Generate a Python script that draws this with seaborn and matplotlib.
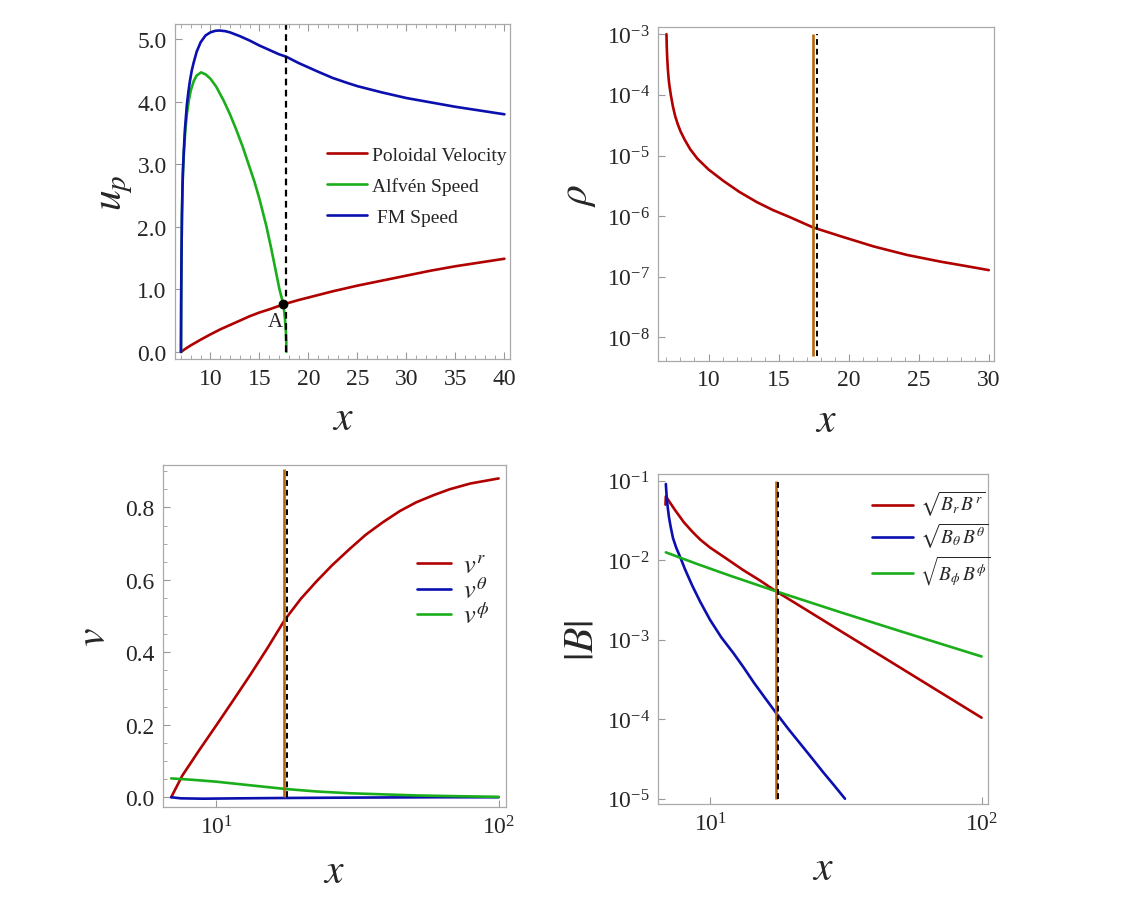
import numpy as np
import pandas as pd
import matplotlib
matplotlib.use('Agg')
import matplotlib.pyplot as plt
import matplotlib.ticker as mticker
import seaborn as sns

# 数据
# 左上：极向速度 / Alfvén 速度 / FM 速度
x_fm = [7.0, 7.02, 7.05, 7.1, 7.15, 7.2, 7.3, 7.4, 7.5, 7.6, 7.75, 7.9, 8.1, 8.3, 8.6, 9.0,
        9.5, 10.0, 10.5, 10.9, 11.5, 12.0, 13.0, 14.0, 15.0, 16.0, 17.0, 17.75, 19.0, 20.0,
        21.0, 22.5, 24.0, 25.0, 27.5, 30.0, 32.5, 35.0, 37.5, 40.0]
u_fm = [0.0, 0.8, 1.5, 2.2, 2.6, 2.9, 3.25, 3.55, 3.75, 3.95, 4.15, 4.32, 4.5, 4.63, 4.8, 4.95,
        5.06, 5.11, 5.135, 5.14, 5.13, 5.11, 5.05, 4.98, 4.9, 4.83, 4.76, 4.72, 4.62, 4.55,
        4.48, 4.38, 4.3, 4.25, 4.15, 4.06, 3.99, 3.92, 3.86, 3.80]
x_alf = [7.0, 7.02, 7.05, 7.1, 7.15, 7.2, 7.3, 7.45, 7.6, 7.8, 8.0, 8.3, 8.6, 9.05, 9.5,
         10.0, 10.6, 11.35, 12.0, 12.6, 13.3, 13.9, 14.5, 15.0, 15.7, 16.2, 16.6, 17.05,
         17.45, 17.6, 17.7, 17.74, 17.76]
u_alf = [0.0, 0.8, 1.5, 2.2, 2.6, 2.85, 3.2, 3.55, 3.8, 4.02, 4.18, 4.33, 4.42, 4.47, 4.44,
         4.37, 4.24, 4.02, 3.8, 3.57, 3.28, 3.0, 2.72, 2.45, 2.02, 1.66, 1.35, 1.0,
         0.76, 0.55, 0.33, 0.18, 0.0]
x_pol = [7.0, 7.5, 8.0, 8.5, 9.0, 10.0, 11.0, 12.0, 13.0, 14.0, 15.0, 16.0, 17.45, 19.0,
         20.0, 22.5, 25.0, 27.5, 30.0, 32.5, 35.0, 37.5, 40.0]
u_pol = [0.0, 0.055, 0.105, 0.15, 0.195, 0.28, 0.36, 0.43, 0.5, 0.57, 0.63, 0.68, 0.76, 0.83,
         0.87, 0.97, 1.06, 1.14, 1.22, 1.3, 1.37, 1.43, 1.49]

# 右上：密度 (log10)
x_rho = [7.0, 7.02, 7.05, 7.1, 7.15, 7.2, 7.31, 7.45, 7.62, 7.8, 8.0, 8.3, 8.69, 9.2, 10.0,
         11.07, 12.2, 13.46, 14.6, 15.84, 17.45, 19.41, 21.79, 24.17, 26.55, 28.3, 30.0]
lg_rho = [-3.0, -3.2, -3.38, -3.58, -3.72, -3.83, -4.0, -4.18, -4.35, -4.48, -4.6, -4.74,
          -4.895, -5.05, -5.23, -5.42, -5.6, -5.77, -5.9, -6.02, -6.185, -6.33, -6.5, -6.64,
          -6.75, -6.82, -6.89]

# 左下：三维速度分量
x_v = [6.93, 7.59, 8.71, 10.0, 11.48, 13.18, 15.14, 17.5, 19.95, 22.6, 25.7, 29.65, 33.9,
       38.9, 44.7, 51.05, 58.9, 67.0, 79.4, 100.0]
v_r = [0.0, 0.06, 0.13, 0.198, 0.267, 0.337, 0.41, 0.49, 0.548, 0.595, 0.64, 0.685, 0.725,
       0.759, 0.79, 0.814, 0.834, 0.85, 0.866, 0.88]
x_vth = [6.93, 7.5, 9.0, 12.0, 17.5, 30.0, 60.0, 100.0]
v_th = [0.0, -0.003, -0.004, -0.003, -0.002, -0.001, 0.0, 0.0]
x_vph = [6.93, 8.3, 10.0, 13.2, 17.5, 22.6, 29.7, 38.9, 51.0, 70.0, 100.0]
v_ph = [0.052, 0.048, 0.043, 0.033, 0.023, 0.016, 0.011, 0.008, 0.005, 0.003, 0.001]

# 右下：磁场分量 (log10)
x_br = [6.85, 6.87, 7.4, 8.0, 8.6, 9.2, 10.0, 11.5, 13.2, 15.2, 17.5, 22.4, 31.6, 44.7,
        63.1, 100.0]
lg_br = [-1.3, -1.196, -1.36, -1.52, -1.64, -1.74, -1.84, -1.98, -2.12, -2.25, -2.39, -2.615,
         -2.93, -3.245, -3.56, -3.98]
x_bth = [6.87, 6.92, 6.98, 7.05, 7.15, 7.3, 7.5, 7.76, 8.1, 8.6, 9.19, 10.0, 11.0, 12.2,
         13.3, 14.5, 16.0, 17.5, 19.4, 21.4, 23.6, 26.0, 28.6, 31.4]
lg_bth = [-1.04, -1.2, -1.33, -1.45, -1.57, -1.72, -1.84, -1.96, -2.12, -2.32, -2.52, -2.75,
          -2.97, -3.17, -3.35, -3.54, -3.74, -3.92, -4.12, -4.3, -4.48, -4.66, -4.83, -5.0]
x_bph = [6.87, 9.19, 12.0, 17.5, 30.0, 50.0, 100.0]
lg_bph = [-1.9, -2.06, -2.2, -2.39, -2.65, -2.89, -3.21]

x_A = 17.45      # Alfvén 点
u_A = 0.76
x_dash = 17.75   # 虚线位置

red = '#b00000'
green = '#1aae1a'
blue = '#0a0fae'
orange = '#b8650c'

sns.set_style('ticks')
plt.rcParams['font.family'] = ['Liberation Serif', 'DejaVu Sans']
plt.rcParams['mathtext.fontset'] = 'stix'

fig = plt.figure(figsize=(11.29, 9.12), dpi=100)
ax1 = fig.add_axes([0.155, 0.605, 0.297, 0.368])
ax2 = fig.add_axes([0.583, 0.603, 0.297, 0.366])
ax3 = fig.add_axes([0.144, 0.114, 0.304, 0.375])
ax4 = fig.add_axes([0.583, 0.117, 0.292, 0.362])

lw = 1.9

def style(ax):
    for s in ax.spines.values():
        s.set_color('#aaaaaa')
        s.set_linewidth(0.9)
    ax.tick_params(which='both', direction='in', color='#999999', labelsize=17, pad=6)
    ax.tick_params(which='major', length=5)
    ax.tick_params(which='minor', length=3)

# ---- 左上
sns.lineplot(x=x_pol, y=u_pol, ax=ax1, color=red, lw=lw, label='Poloidal Velocity')
sns.lineplot(x=x_alf, y=u_alf, ax=ax1, color=green, lw=lw, label='Alfvén Speed', sort=False, estimator=None)
sns.lineplot(x=x_fm, y=u_fm, ax=ax1, color=blue, lw=lw, label=' FM Speed', sort=False, estimator=None)
ax1.vlines(x_dash, 0, 5.3, colors='k', linestyles=(0, (3, 2)), lw=1.6)
ax1.plot([x_A], [u_A], 'o', color='k', ms=6, zorder=5)
ax1.text(x_A - 0.85, u_A - 0.27, 'A', fontsize=15, ha='center', va='center')
ax1.set_xlim(6.39, 40.6)
ax1.set_ylim(-0.117, 5.25)
ax1.xaxis.set_major_locator(mticker.MultipleLocator(5))
ax1.xaxis.set_minor_locator(mticker.MultipleLocator(1))
ax1.yaxis.set_major_locator(mticker.MultipleLocator(1))
ax1.yaxis.set_major_formatter(mticker.FormatStrFormatter('%.1f'))
ax1.set_xlabel('$x$', fontsize=30, labelpad=8)
ax1.set_ylabel('$u_p$', fontsize=30, labelpad=2)
ax1.legend(loc='upper left', bbox_to_anchor=(0.40, 0.687), frameon=False, fontsize=14,
           handlelength=2.1, handletextpad=0.25, labelspacing=0.68)
style(ax1)
ax1.tick_params(axis='x', which='both', top=True)

# ---- 右上
sns.lineplot(x=x_rho, y=[10 ** v for v in lg_rho], ax=ax2, color=red, lw=lw)
ax2.vlines(x_A, 10 ** -8.3, 1e-3, colors=orange, lw=lw)
ax2.vlines(x_dash, 10 ** -8.3, 1e-3, colors='k', linestyles=(0, (3, 2)), lw=1.4)
ax2.set_yscale('log')
ax2.set_xlim(6.41, 30.34)
ax2.set_ylim(10 ** -8.39, 10 ** -2.885)
ax2.xaxis.set_major_locator(mticker.MultipleLocator(5))
ax2.xaxis.set_minor_locator(mticker.MultipleLocator(1))
ax2.yaxis.set_major_locator(mticker.LogLocator(base=10, numticks=12))
ax2.yaxis.set_minor_locator(mticker.NullLocator())
ax2.set_xlabel('$x$', fontsize=30, labelpad=8)
ax2.set_ylabel(r'$\rho$', fontsize=30, labelpad=6)
style(ax2)

# ---- 左下
sns.lineplot(x=x_v, y=v_r, ax=ax3, color=red, lw=lw, label='$v^r$')
sns.lineplot(x=x_vth, y=v_th, ax=ax3, color=blue, lw=lw, label=r'$v^\theta$')
sns.lineplot(x=x_vph, y=v_ph, ax=ax3, color=green, lw=lw, label=r'$v^\phi$')
ax3.vlines(x_A, 0, 0.905, colors=orange, lw=lw)
ax3.vlines(x_dash, 0, 0.9, colors='k', linestyles=(0, (3, 2)), lw=1.4)
ax3.set_xscale('log')
ax3.set_xlim(6.46, 106)
ax3.set_ylim(-0.027, 0.917)
ax3.xaxis.set_minor_locator(mticker.NullLocator())
ax3.yaxis.set_major_locator(mticker.MultipleLocator(0.2))
ax3.yaxis.set_minor_locator(mticker.MultipleLocator(0.05))
ax3.yaxis.set_major_formatter(mticker.FormatStrFormatter('%.1f'))
ax3.set_xlabel('$x$', fontsize=30, labelpad=10)
ax3.set_ylabel('$v$', fontsize=30, labelpad=8)
ax3.legend(loc='upper left', bbox_to_anchor=(0.671, 0.81), frameon=False, fontsize=19,
           handlelength=1.3, handletextpad=0.45, labelspacing=-0.05)
style(ax3)

# ---- 右下
sns.lineplot(x=x_br, y=[10 ** v for v in lg_br], ax=ax4, color=red, lw=lw,
             label=r'$\sqrt{B_r\,B^r}$', sort=False, estimator=None)
sns.lineplot(x=x_bth, y=[10 ** v for v in lg_bth], ax=ax4, color=blue, lw=lw,
             label=r'$\sqrt{B_\theta\,B^\theta}$')
sns.lineplot(x=x_bph, y=[10 ** v for v in lg_bph], ax=ax4, color=green, lw=lw,
             label=r'$\sqrt{B_\phi\,B^\phi}$')
ax4.vlines(x_A, 1e-5, 1e-1, colors=orange, lw=lw)
ax4.vlines(x_dash, 1e-5, 1e-1, colors='k', linestyles=(0, (3, 2)), lw=1.4)
ax4.set_xscale('log')
ax4.set_yscale('log')
ax4.set_xlim(6.44, 105.5)
ax4.set_ylim(10 ** -5.07, 10 ** -0.916)
ax4.xaxis.set_minor_locator(mticker.NullLocator())
ax4.yaxis.set_major_locator(mticker.LogLocator(base=10, numticks=12))
ax4.yaxis.set_minor_locator(mticker.NullLocator())
ax4.set_xlabel('$x$', fontsize=30, labelpad=10)
ax4.set_ylabel('$|B|$', fontsize=30, labelpad=4)
ax4.legend(loc='upper left', bbox_to_anchor=(0.596, 1.007), frameon=False, fontsize=14,
           handlelength=2.1, handletextpad=0.35, labelspacing=0.15)
style(ax4)

plt.savefig('out.png', dpi=100)
